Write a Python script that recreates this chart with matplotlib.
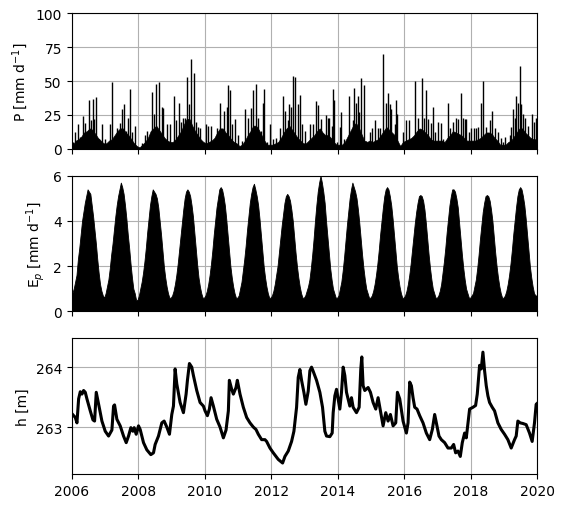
import numpy as np
import matplotlib
matplotlib.use("Agg")
import matplotlib.pyplot as plt

# ---- precipitation: individual rain events (decimal year, mm/d)
p_year = [2006.05, 2006.10, 2006.18, 2006.26, 2006.33, 2006.41, 2006.51, 2006.58, 2006.63, 2006.68,
          2006.73, 2006.81, 2006.91, 2007.01, 2007.14, 2007.21, 2007.36, 2007.44, 2007.51, 2007.56,
          2007.64, 2007.68, 2007.74, 2007.81, 2007.91, 2008.11, 2008.21, 2008.28, 2008.41, 2008.48,
          2008.54, 2008.64, 2008.71, 2008.76, 2008.86, 2008.96, 2009.09, 2009.14, 2009.24, 2009.29,
          2009.36, 2009.41, 2009.48, 2009.54, 2009.59, 2009.69, 2009.74, 2009.81, 2009.86, 2010.03,
          2010.11, 2010.19, 2010.38, 2010.46, 2010.59, 2010.66, 2010.71, 2010.76, 2010.83, 2010.91,
          2010.99, 2011.13, 2011.21, 2011.31, 2011.39, 2011.46, 2011.54, 2011.61, 2011.69, 2011.74,
          2011.77, 2011.86, 2011.96, 2012.06, 2012.13, 2012.26, 2012.36, 2012.41, 2012.49, 2012.54,
          2012.59, 2012.66, 2012.71, 2012.80, 2012.86, 2012.93, 2013.01, 2013.16, 2013.24, 2013.34,
          2013.41, 2013.48, 2013.56, 2013.64, 2013.69, 2013.74, 2013.81, 2013.86, 2013.89, 2013.96,
          2014.06, 2014.11, 2014.19, 2014.26, 2014.34, 2014.46, 2014.49, 2014.54, 2014.61, 2014.64,
          2014.69, 2014.79, 2014.86, 2014.96, 2015.04, 2015.11, 2015.21, 2015.28, 2015.36, 2015.44,
          2015.51, 2015.56, 2015.61, 2015.71, 2015.76, 2015.79, 2015.86, 2015.96, 2016.04, 2016.14,
          2016.31, 2016.41, 2016.53, 2016.59, 2016.66, 2016.71, 2016.79, 2016.86, 2016.91, 2017.01,
          2017.09, 2017.16, 2017.31, 2017.36, 2017.46, 2017.56, 2017.61, 2017.69, 2017.76, 2017.81,
          2017.86, 2017.93, 2018.01, 2018.09, 2018.14, 2018.21, 2018.29, 2018.36, 2018.46, 2018.56,
          2018.64, 2018.71, 2018.81, 2018.89, 2018.96, 2019.03, 2019.16, 2019.21, 2019.26, 2019.31,
          2019.36, 2019.41, 2019.46, 2019.51, 2019.56, 2019.61, 2019.71, 2019.83, 2019.89, 2019.96]
p_val = [5, 12, 18, 9, 24, 19, 36, 21, 37, 22,
         38, 7, 18, 7, 18, 49, 15, 19, 29, 33,
         13, 23, 44, 12, 17, 4, 10, 13, 42, 26,
         48, 49, 31, 30, 18, 18, 39, 21, 34, 20,
         23, 23, 53, 33, 66, 56, 20, 16, 15, 18,
         17, 17, 15, 34, 28, 31, 47, 43, 18, 22,
         10, 6, 29, 23, 30, 43, 48, 23, 13, 34,
         44, 5, 18, 7, 8, 15, 39, 28, 21, 33,
         31, 54, 53, 33, 40, 18, 13, 18, 18, 35,
         32, 22, 7, 25, 23, 23, 17, 44, 36, 5,
         16, 27, 7, 5, 39, 21, 45, 34, 39, 27,
         52, 47, 6, 12, 15, 21, 15, 15, 70, 34,
         41, 33, 29, 18, 36, 26, 2, 12, 21, 21,
         50, 23, 52, 23, 43, 22, 19, 31, 12, 20,
         19, 7, 34, 15, 20, 23, 22, 41, 23, 22,
         22, 12, 15, 15, 15, 16, 34, 50, 16, 21,
         28, 15, 12, 8, 5, 9, 10, 16, 29, 23,
         39, 34, 61, 33, 26, 23, 17, 26, 20, 23]

# ---- precipitation: background level of the many small daily values, monthly
p_base = [3, 6, 7, 9, 12, 13, 15, 14, 11, 8, 6, 4,
          4, 6, 7, 10, 13, 15, 15, 12, 10, 7, 4, 2,
          1, 3, 5, 8, 13, 15, 17, 14, 11, 8, 6, 5,
          5, 7, 10, 13, 18, 22, 22, 17, 13, 10, 7, 5,
          4, 5, 6, 8, 12, 15, 15, 12, 10, 7, 5, 4,
          2, 3, 6, 10, 13, 17, 17, 14, 10, 6, 3, 3,
          3, 4, 5, 8, 12, 15, 17, 14, 11, 8, 6, 4,
          4, 6, 8, 10, 13, 15, 12, 10, 10, 8, 5, 3,
          3, 3, 5, 9, 13, 17, 19, 16, 11, 6, 5, 6,
          5, 6, 7, 10, 13, 16, 14, 12, 10, 6, 2, 5,
          6, 7, 8, 10, 13, 15, 14, 12, 10, 7, 6, 6,
          6, 6, 5, 8, 10, 13, 12, 11, 10, 8, 6, 6,
          6, 6, 7, 8, 10, 12, 12, 11, 8, 6, 3, 3,
          3, 5, 6, 9, 12, 15, 15, 12, 10, 8, 7, 7]

# ---- potential evaporation, half-monthly upper values (mm/d), 2006..2019
ep_val = [
    0.8, 1.0, 1.3, 1.6, 2.3, 2.8, 3.4, 4.0, 4.4, 4.8, 5.1, 5.4, 5.3, 5.2, 4.7, 4.2, 3.6, 3.0, 2.3, 1.7, 1.2, 0.9, 0.7, 0.6,
    0.8, 1.1, 1.4, 1.9, 2.5, 3.0, 3.6, 4.2, 4.7, 5.1, 5.4, 5.7, 5.5, 5.2, 4.7, 4.1, 3.4, 2.8, 2.1, 1.5, 1.0, 0.8, 0.5, 0.5,
    0.7, 1.0, 1.3, 1.7, 2.2, 2.8, 3.5, 4.1, 4.7, 5.1, 5.4, 5.3, 5.2, 5.0, 4.6, 4.0, 3.4, 2.7, 2.0, 1.5, 1.1, 0.8, 0.6, 0.6,
    0.7, 0.9, 1.2, 1.6, 2.1, 2.7, 3.3, 3.9, 4.5, 5.0, 5.3, 5.4, 5.3, 5.1, 4.7, 4.2, 3.5, 2.8, 2.1, 1.5, 1.1, 0.8, 0.6, 0.6,
    0.7, 0.9, 1.2, 1.6, 2.1, 2.7, 3.4, 4.0, 4.6, 5.0, 5.4, 5.5, 5.4, 5.1, 4.7, 4.1, 3.4, 2.7, 2.0, 1.5, 1.1, 0.8, 0.6, 0.6,
    0.7, 1.0, 1.3, 1.8, 2.3, 2.9, 3.6, 4.2, 4.8, 5.2, 5.5, 5.65, 5.4, 5.1, 4.7, 4.1, 3.4, 2.7, 2.0, 1.5, 1.1, 0.8, 0.6, 0.6,
    0.7, 0.9, 1.2, 1.6, 2.0, 2.6, 3.2, 3.8, 4.3, 4.8, 5.1, 5.2, 5.1, 4.9, 4.5, 4.0, 3.3, 2.6, 2.0, 1.5, 1.1, 0.8, 0.6, 0.6,
    0.7, 0.9, 1.1, 1.4, 1.9, 2.5, 3.2, 4.0, 4.7, 5.3, 5.7, 6.0, 5.7, 5.3, 4.8, 4.0, 3.3, 2.6, 1.9, 1.4, 1.0, 0.8, 0.6, 0.6,
    0.7, 1.0, 1.3, 1.8, 2.4, 3.1, 3.8, 4.4, 5.0, 5.4, 5.7, 5.5, 5.3, 5.0, 4.5, 3.9, 3.2, 2.5, 1.9, 1.4, 1.0, 0.8, 0.6, 0.6,
    0.7, 0.9, 1.2, 1.6, 2.1, 2.7, 3.4, 4.0, 4.6, 5.1, 5.4, 5.5, 5.4, 5.1, 4.7, 4.1, 3.4, 2.7, 2.0, 1.5, 1.1, 0.8, 0.6, 0.6,
    0.7, 0.9, 1.2, 1.6, 2.1, 2.7, 3.3, 3.9, 4.4, 4.8, 5.1, 5.15, 5.1, 4.9, 4.5, 3.9, 3.2, 2.5, 1.9, 1.4, 1.0, 0.8, 0.6, 0.6,
    0.7, 0.9, 1.2, 1.7, 2.2, 2.8, 3.5, 4.1, 4.7, 5.1, 5.4, 5.4, 5.3, 5.0, 4.6, 3.9, 3.2, 2.5, 1.9, 1.4, 1.0, 0.8, 0.6, 0.6,
    0.7, 0.8, 1.1, 1.4, 1.9, 2.5, 3.2, 3.8, 4.4, 4.8, 5.1, 5.15, 5.1, 4.9, 4.5, 4.0, 3.3, 2.6, 2.0, 1.5, 1.1, 0.8, 0.6, 0.6,
    0.7, 0.9, 1.2, 1.6, 2.1, 2.7, 3.4, 4.0, 4.6, 5.1, 5.4, 5.5, 5.4, 5.1, 4.7, 4.1, 3.4, 2.7, 2.0, 1.5, 1.1, 0.8, 0.7, 0.7]

# ---- groundwater head (decimal year, m)
h_year = [2006.03, 2006.11, 2006.16, 2006.21, 2006.26, 2006.31, 2006.36, 2006.41, 2006.46, 2006.56,
          2006.64, 2006.69, 2006.74, 2006.78, 2006.84, 2006.91, 2007.01, 2007.11, 2007.16, 2007.21,
          2007.26, 2007.29, 2007.36, 2007.46, 2007.56, 2007.64, 2007.71, 2007.78, 2007.84, 2007.88,
          2007.94, 2008.01, 2008.06, 2008.16, 2008.26, 2008.38, 2008.46, 2008.51, 2008.61, 2008.71,
          2008.78, 2008.86, 2008.94, 2009.01, 2009.06, 2009.11, 2009.16, 2009.26, 2009.36, 2009.44,
          2009.48, 2009.54, 2009.61, 2009.66, 2009.76, 2009.86, 2009.96, 2010.01, 2010.08, 2010.14,
          2010.19, 2010.26, 2010.36, 2010.46, 2010.56, 2010.64, 2010.71, 2010.74, 2010.81, 2010.86,
          2010.94, 2010.98, 2011.06, 2011.16, 2011.26, 2011.36, 2011.46, 2011.54, 2011.61, 2011.71,
          2011.81, 2011.86, 2011.96, 2012.06, 2012.21, 2012.34, 2012.41, 2012.51, 2012.61, 2012.68,
          2012.76, 2012.81, 2012.86, 2012.91, 2012.98, 2013.04, 2013.11, 2013.16, 2013.21, 2013.26,
          2013.36, 2013.46, 2013.54, 2013.61, 2013.66, 2013.76, 2013.83, 2013.86, 2013.91, 2013.96,
          2014.01, 2014.06, 2014.11, 2014.16, 2014.21, 2014.26, 2014.36, 2014.41, 2014.46, 2014.56,
          2014.64, 2014.69, 2014.72, 2014.76, 2014.81, 2014.91, 2014.98, 2015.06, 2015.14, 2015.21,
          2015.29, 2015.36, 2015.44, 2015.51, 2015.58, 2015.66, 2015.74, 2015.79, 2015.86, 2015.96,
          2016.06, 2016.11, 2016.16, 2016.21, 2016.26, 2016.31, 2016.38, 2016.46, 2016.56, 2016.66,
          2016.76, 2016.84, 2016.91, 2016.96, 2017.04, 2017.11, 2017.21, 2017.31, 2017.41, 2017.48,
          2017.54, 2017.61, 2017.68, 2017.74, 2017.81, 2017.86, 2017.96, 2018.06, 2018.14, 2018.19,
          2018.26, 2018.31, 2018.36, 2018.41, 2018.46, 2018.51, 2018.56, 2018.64, 2018.71, 2018.81,
          2018.91, 2019.01, 2019.11, 2019.21, 2019.31, 2019.36, 2019.41, 2019.48, 2019.56, 2019.66,
          2019.76, 2019.84, 2019.91, 2019.96, 2020.00]
h_val = [263.21, 263.16, 263.07, 263.47, 263.59, 263.55, 263.61, 263.58, 263.47, 263.27,
         263.12, 263.10, 263.58, 263.47, 263.30, 263.10, 262.93, 262.85, 262.90, 262.95,
         263.35, 263.37, 263.13, 263.02, 262.85, 262.74, 262.85, 262.99, 262.93, 262.99,
         262.88, 263.02, 262.96, 262.74, 262.62, 262.54, 262.57, 262.71, 262.85, 263.07,
         263.10, 263.00, 262.88, 263.21, 263.35, 263.97, 263.72, 263.41, 263.24, 263.55,
         263.78, 264.06, 264.00, 263.86, 263.61, 263.41, 263.35, 263.27, 263.19, 263.30,
         263.49, 263.35, 263.13, 263.00, 262.82, 262.95, 263.27, 263.78, 263.63, 263.55,
         263.66, 263.78, 263.55, 263.33, 263.16, 263.07, 263.00, 262.96, 262.88, 262.79,
         262.79, 262.76, 262.65, 262.57, 262.46, 262.40, 262.51, 262.60, 262.76, 262.93,
         263.33, 263.83, 263.96, 263.78, 263.58, 263.38, 263.60, 263.94, 264.00, 263.93,
         263.78, 263.58, 263.33, 262.93, 262.85, 262.84, 262.90, 263.24, 263.52, 263.63,
         263.47, 263.30, 263.58, 264.00, 263.86, 263.58, 263.35, 263.49, 263.33, 263.24,
         263.33, 263.97, 264.17, 263.69, 263.61, 263.66, 263.58, 263.41, 263.30, 263.49,
         263.24, 263.02, 263.24, 263.10, 263.21, 263.02, 263.07, 263.58, 263.47, 263.10,
         262.90, 263.07, 263.75, 263.69, 263.49, 263.33, 263.30, 263.19, 263.07, 262.90,
         262.79, 262.96, 263.21, 263.07, 262.85, 262.79, 262.74, 262.65, 262.65, 262.71,
         262.57, 262.60, 262.51, 262.74, 262.90, 262.82, 263.30, 263.33, 263.36, 263.55,
         264.03, 263.97, 264.25, 263.94, 263.69, 263.52, 263.41, 263.33, 263.27, 263.07,
         262.96, 262.88, 262.79, 262.65, 262.79, 262.85, 263.10, 263.07, 263.06, 263.04,
         262.90, 262.76, 263.07, 263.38, 263.40]

start_year = 2006
# sample times at the middle of each month / half-month
base_t = start_year + (np.arange(len(p_base)) + 0.5) / 12
ep_t = start_year + (np.arange(len(ep_val)) + 0.5) / 24

fig, axes = plt.subplots(3, 1, sharex=True, figsize=(5.64, 5.10), dpi=100)
fig.subplots_adjust(left=0.127, right=0.953, top=0.972, bottom=0.069, hspace=0.2)
ax1, ax2, ax3 = axes

# Precipitation
ax1.fill_between(base_t, 0, p_base, color="k", lw=0.5, edgecolor="k")
ax1.vlines(p_year, 0, p_val, color="k", lw=1.0)
ax1.set_ylim(0, 100)
ax1.set_yticks([0, 25, 50, 75, 100])
ax1.set_ylabel("P [mm d$^{-1}$]")

# Potential evaporation
ax2.fill_between(ep_t, 0, ep_val, color="k", lw=0.6, edgecolor="k")
ax2.set_ylim(0, 6)
ax2.set_yticks([0, 2, 4, 6])
ax2.set_ylabel("E$_p$ [mm d$^{-1}$]")

# Head
ax3.plot(h_year, h_val, color="k", lw=2.2)
ax3.set_ylim(262.22, 264.48)
ax3.set_yticks([263, 264])
ax3.set_ylabel("h [m]")

for ax in axes:
    ax.set_axisbelow(True)
    ax.grid(True, color="#b0b0b0", lw=0.8)
ax3.set_xlim(2006, 2020)
ax3.set_xticks(range(2006, 2021, 2))
ax3.set_xticklabels([str(y) for y in range(2006, 2021, 2)])

plt.savefig("out.png", dpi=100)
